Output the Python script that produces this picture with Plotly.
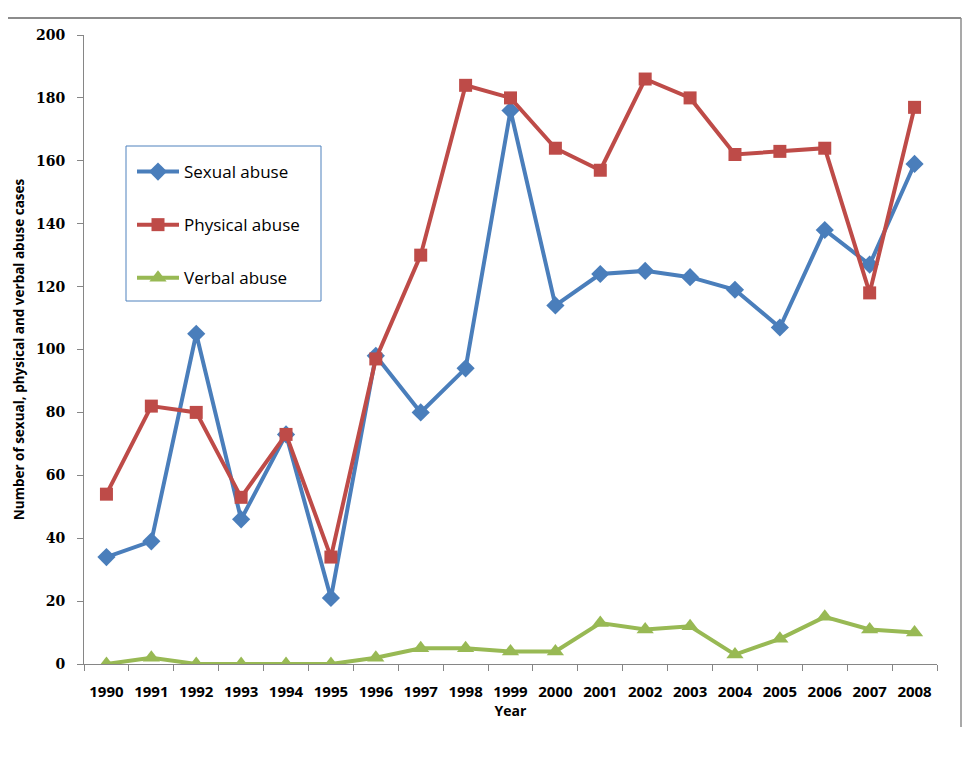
import plotly.graph_objects as go

years = [str(y) for y in range(1990, 2009)]
sexual = [34, 39, 105, 46, 73, 21, 98, 80, 94, 176, 114, 124, 125, 123, 119, 107, 138, 127, 159]
physical = [54, 82, 80, 53, 73, 34, 97, 130, 184, 180, 164, 157, 186, 180, 162, 163, 164, 118, 177]
verbal = [0, 2, 0, 0, 0, 0, 2, 5, 5, 4, 4, 13, 11, 12, 3, 8, 15, 11, 10]

series = [
    ("Sexual abuse", sexual, "#4A7EBB", "diamond", 14),
    ("Physical abuse", physical, "#BE4B48", "square", 13),
    ("Verbal abuse", verbal, "#98B954", "triangle-up", 15),
]

fig = go.Figure()
for name, vals, col, sym, sz in series:
    fig.add_trace(go.Scatter(
        x=years, y=vals, name=name, mode="lines+markers",
        line=dict(color=col, width=4),
        marker=dict(symbol=sym, size=sz, color=col),
        legendgroup=name,
    ))

# page body has an 8px margin: work in reference pixel coords, shifted
OFF = 8
W, H = 977 - OFF, 730
L, T = 84 - OFF, 35 - OFF
R = W - (937 - OFF)
B = H - (664 - OFF)
pw, ph = W - L - R, H - T - B

def px(x):
    return (x - OFF - L) / pw

def py(y):
    return (H - B - (y - OFF)) / ph

fig.update_layout(
    width=W, height=H,
    margin=dict(l=L, r=R, t=T, b=B),
    plot_bgcolor="white", paper_bgcolor="white",
    font=dict(family="Liberation Sans", color="black"),
    showlegend=True,
    legend=dict(
        x=px(132), y=py(154), xanchor="left", yanchor="top",
        font=dict(family="Open Sans", size=17, color="black"),
        bgcolor="rgba(0,0,0,0)", borderwidth=0,
        tracegroupgap=28, itemwidth=42,
    ),
    xaxis=dict(
        type="category", range=[-0.5, 18.5], autorange=False,
        showgrid=False, showline=True, linecolor="#868686", linewidth=1,
        ticks="outside", tickson="boundaries", ticklen=6, tickcolor="#868686",
        tickfont=dict(family="Open Sans", size=15, weight="bold"),
        ticklabelstandoff=14, automargin=False,
        title=dict(text="Year", font=dict(family="Open Sans", size=14, weight="bold"), standoff=6),
        fixedrange=True,
    ),
    yaxis=dict(
        range=[0, 200], autorange=False, dtick=20, showgrid=False, showline=True,
        linecolor="#868686", linewidth=1,
        ticks="outside", ticklen=6, tickcolor="#868686", zeroline=False,
        tickfont=dict(family="DejaVu Serif", size=14, weight="bold"),
        ticklabelstandoff=9, automargin=False,
        title=dict(text="Number of sexual, physical and verbal abuse cases",
                   font=dict(family="Open Sans", size=13.5, weight="bold"), standoff=8),
    ),
    shapes=[
        dict(type="rect", xref="paper", yref="paper",
             x0=px(126), x1=px(321), y0=py(301), y1=py(146),
             line=dict(color="#4F81BD", width=1), fillcolor="rgba(0,0,0,0)", layer="below"),
        dict(type="line", xref="paper", yref="paper",
             x0=px(0), x1=px(961), y0=py(18), y1=py(18),
             line=dict(color="#8C8C8C", width=2)),
        dict(type="line", xref="paper", yref="paper",
             x0=px(961), x1=px(961), y0=py(727), y1=py(18),
             line=dict(color="#8C8C8C", width=1.5)),
    ],
)

fig.write_html("out.html")
